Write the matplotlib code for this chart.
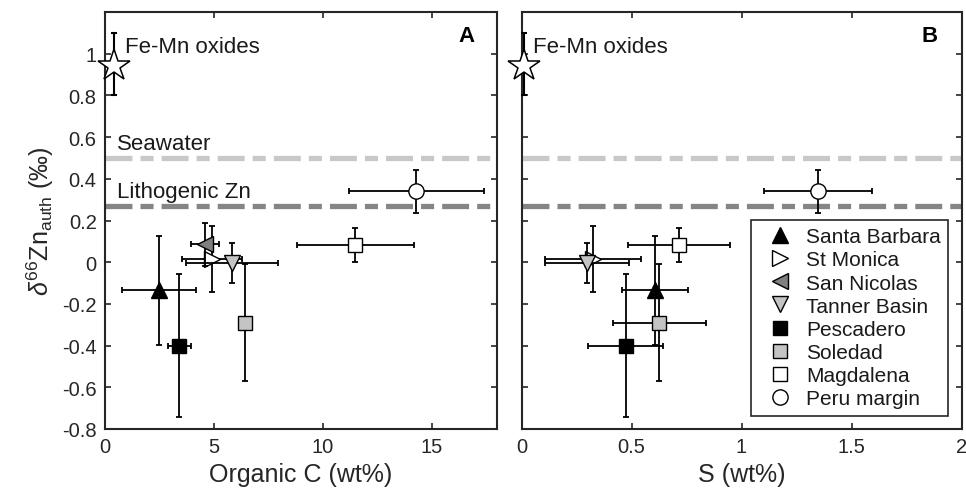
import matplotlib
matplotlib.use("Agg")
import matplotlib.pyplot as plt
from matplotlib.lines import Line2D
import numpy as np

plt.rcParams['font.family'] = ['Liberation Sans', 'DejaVu Sans']
plt.rcParams['mathtext.fontset'] = 'custom'
plt.rcParams['mathtext.rm'] = 'Liberation Sans'
plt.rcParams['mathtext.it'] = 'Liberation Sans:italic'
plt.rcParams['mathtext.bf'] = 'Liberation Sans:bold'
plt.rcParams['axes.unicode_minus'] = False
plt.rcParams['lines.scale_dashes'] = False

# ---------------- data ----------------
sites = ['Santa Barbara', 'St Monica', 'San Nicolas', 'Tanner Basin',
         'Pescadero', 'Soledad', 'Magdalena', 'Peru margin']
markers = ['^', '>', '<', 'v', 's', 's', 's', 'o']
facecolors = ['black', 'white', '#808080', '#c4c4c4', 'black', '#c4c4c4', 'white', 'white']
msizes = [12, 12, 12, 12, 10, 10, 10, 11]

d66zn = [-0.135, 0.015, 0.085, -0.005, -0.40, -0.29, 0.083, 0.34]
d66zn_err = [0.26, 0.16, 0.105, 0.095, 0.343, 0.28, 0.08, 0.104]

org_c = [2.49, 4.90, 4.60, 5.83, 3.42, 6.45, 11.5, 14.3]
org_c_err = [1.70, 1.37, 0.63, 2.12, 0.51, 0.15, 2.70, 3.10]

sulfur = [0.607, 0.325, np.nan, 0.298, 0.474, 0.627, 0.716, 1.346]
sulfur_err = [0.15, 0.22, np.nan, 0.19, 0.17, 0.21, 0.23, 0.245]

femn_orgc = 0.41
femn_s = 0.01
femn_d66 = 0.95
femn_d66_err = 0.15

seawater_d66 = 0.5
lithogenic_d66 = 0.27

xticks_a = [0, 5, 10, 15]
xticks_b = [0, 0.5, 1, 1.5, 2]
xticklabels_b = ['0', '0.5', '1', '1.5', '2']
yticks = [-0.8, -0.6, -0.4, -0.2, 0, 0.2, 0.4, 0.6, 0.8, 1]
yticklabels = ['-0.8', '-0.6', '-0.4', '-0.2', '0', '0.2', '0.4', '0.6', '0.8', '1']

# ---------------- figure ----------------
fig = plt.figure(figsize=(9.66, 4.89), dpi=100)
axA = fig.add_axes([105 / 966, 59 / 489, 392 / 966, 417 / 489])
axB = fig.add_axes([521.5 / 966, 59 / 489, 440 / 966, 417 / 489])

axcol = '#262626'
dash = (19.4, 5.8, 9.4, 5.8)


def style(ax):
    for sp in ax.spines.values():
        sp.set_color(axcol)
        sp.set_linewidth(1.5)
    ax.tick_params(direction='in', length=4, width=1.2, color=axcol,
                   labelcolor=axcol, labelsize=14.5, top=True, right=True, pad=6)
    ax.set_ylim(-0.8, 1.2)
    ax.set_yticks(yticks)


def draw(ax, xs, xerrs, femn_x):
    ax.axhline(seawater_d66, color='#c8c8c8', lw=3.8, dashes=dash,
               solid_capstyle='butt', dash_capstyle='butt', zorder=1)
    ax.axhline(lithogenic_d66, color='#858585', lw=3.8, dashes=dash,
               solid_capstyle='butt', dash_capstyle='butt', zorder=1)
    for i in range(len(sites)):
        if np.isnan(xs[i]):
            continue
        ax.errorbar(xs[i], d66zn[i], xerr=xerrs[i], yerr=d66zn_err[i],
                    fmt='none', ecolor='black', elinewidth=1.3, capsize=2.5,
                    capthick=1.3, zorder=2 + i * 0.1)
        ax.plot(xs[i], d66zn[i], marker=markers[i], ms=msizes[i],
                mfc=facecolors[i], mec='black', mew=1.0, ls='none',
                zorder=2.05 + i * 0.1)
    ax.errorbar(femn_x, femn_d66, yerr=femn_d66_err, fmt='none', ecolor='black',
                elinewidth=1.5, capsize=2.5, capthick=1.5, clip_on=False, zorder=3)
    ax.plot(femn_x, femn_d66 - 0.01, marker='*', ms=24, mfc='white', mec='black',
            mew=1.1, ls='none', clip_on=False, zorder=4)


draw(axA, org_c, org_c_err, femn_orgc)
draw(axB, sulfur, sulfur_err, femn_s)

style(axA)
style(axB)

axA.set_xlim(0, 18)
axA.set_xticks(xticks_a)
axA.set_xticklabels([str(t) for t in xticks_a])
axA.set_yticklabels(yticklabels)
axB.set_xlim(0, 2)
axB.set_xticks(xticks_b)
axB.set_xticklabels(xticklabels_b)
axB.set_yticklabels([])

axA.set_xlabel('Organic C (wt%)', fontsize=18, color=axcol, labelpad=4)
axB.set_xlabel('S (wt%)', fontsize=18, color=axcol, labelpad=4)
axA.set_ylabel(r'$\delta^{66}\mathrm{Zn}_{\mathrm{auth}}$ (‰)', fontsize=18,
               color=axcol, labelpad=4)

tcol = '#1a1a1a'
axA.text(0.92, 1.033, 'Fe-Mn oxides', fontsize=16, va='center', ha='left', color=tcol)
axB.text(0.054, 1.033, 'Fe-Mn oxides', fontsize=16, va='center', ha='left', color=tcol)
axA.text(0.53, 0.57, 'Seawater', fontsize=16, va='center', ha='left', color=tcol)
axA.text(0.53, 0.339, 'Lithogenic Zn', fontsize=16, va='center', ha='left', color=tcol)
axA.text(0.923, 0.943, 'A', transform=axA.transAxes, fontsize=16, fontweight='bold',
         ha='center', va='center', color='black')
axB.text(0.928, 0.943, 'B', transform=axB.transAxes, fontsize=16, fontweight='bold',
         ha='center', va='center', color='black')

handles = [Line2D([], [], marker=markers[i], ms=msizes[i], mfc=facecolors[i],
                  mec='black', mew=1.0, ls='none') for i in range(len(sites))]
leg = axB.legend(handles, sites, loc='lower right', bbox_to_anchor=(0.969, 0.032),
                 borderaxespad=0, fontsize=15, frameon=True, fancybox=False,
                 edgecolor='#262626', framealpha=1, borderpad=0.35,
                 handlelength=2.1, handletextpad=0.18, labelspacing=0.2)
leg.get_frame().set_linewidth(1.2)
for t in leg.get_texts():
    t.set_color(tcol)

fig.savefig('out.png', dpi=100)
